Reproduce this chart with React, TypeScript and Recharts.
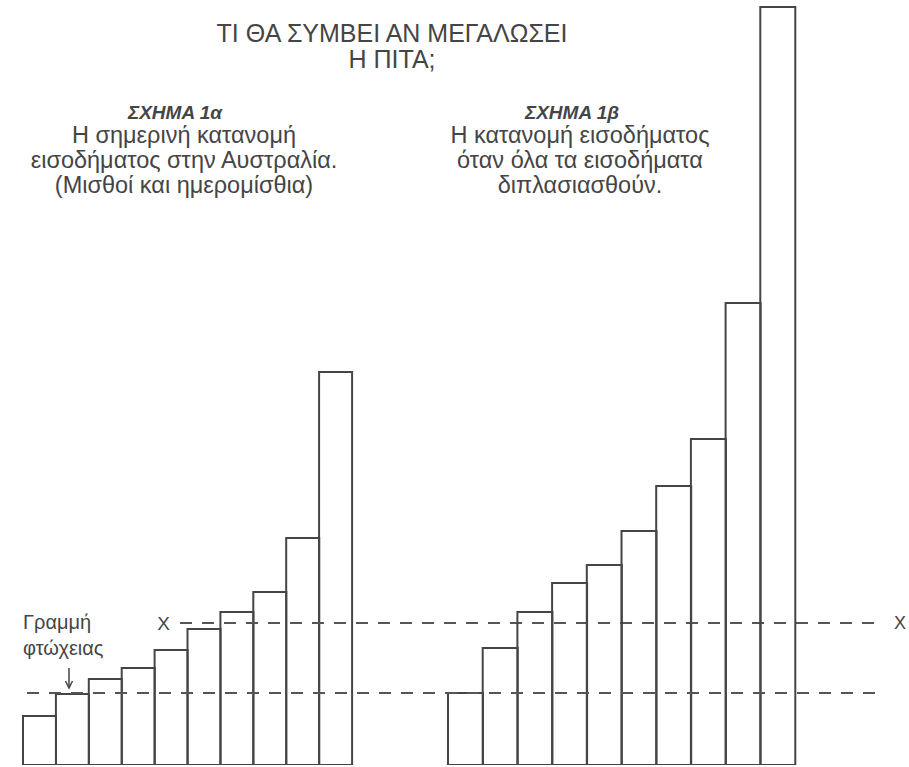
import { BarChart, Bar, XAxis, YAxis, ReferenceLine, Label } from 'recharts'

// income deciles, lowest to highest
const deciles = ['1', '2', '3', '4', '5', '6', '7', '8', '9', '10']

// bar heights (same arbitrary income units for both charts)
const currentIncome = [4.9, 7.1, 8.6, 9.7, 11.5, 13.6, 15.3, 17.3, 22.7, 39.3]
const doubledIncome = [7.2, 11.7, 15.3, 18.2, 20.0, 23.4, 27.9, 32.6, 46.2, 75.8]

const povertyLine = 7.2
const xLevel = 14.2
const yMax = 76

const currentData = deciles.map((d, i) => ({ decile: d, income: currentIncome[i] }))
const doubledData = deciles.map((d, i) => ({ decile: d, income: doubledIncome[i] }))

const INK = '#454545'
const LINE = '#555555'
const FONT = '"Liberation Sans", Arial, Helvetica, sans-serif'

function PovertyLabel(props: any) {
  const { x, y } = props.viewBox
  return (
    <g>
      <text x={x - 4} y={y - 64} fontSize={20} fill={INK} fontFamily={FONT}>
        Γραμμή
      </text>
      <text x={x - 4} y={y - 38} fontSize={20} fill={INK} fontFamily={FONT}>
        φτώχειας
      </text>
      <line x1={x + 42} y1={y - 25} x2={x + 42} y2={y - 6} stroke={INK} strokeWidth={1.5} />
      <path
        d={`M${x + 38.5},${y - 12} L${x + 42},${y - 5} L${x + 45.5},${y - 12}`}
        fill="none"
        stroke={INK}
        strokeWidth={1.5}
      />
    </g>
  )
}

const bodyText = {
  position: 'absolute' as const,
  top: 123,
  textAlign: 'center' as const,
  fontSize: 23.5,
  lineHeight: '25px',
}

const figHead = {
  position: 'absolute' as const,
  top: 102,
  textAlign: 'center' as const,
  fontSize: 19,
  lineHeight: '22px',
  fontWeight: 'bold' as const,
  fontStyle: 'italic' as const,
}

const overlay = { position: 'absolute' as const, left: 0, top: 0 }

export default function App() {
  return (
    <div
      style={{
        position: 'absolute',
        left: 0,
        top: 0,
        width: 909,
        height: 767,
        background: '#fff',
        fontFamily: FONT,
        color: INK,
      }}
    >
      <div
        style={{
          position: 'absolute',
          left: 0,
          top: 20,
          width: 784,
          textAlign: 'center',
          fontSize: 25,
          lineHeight: '26px',
        }}
      >
        ΤΙ ΘΑ ΣΥΜΒΕΙ ΑΝ ΜΕΓΑΛΩΣΕΙ
        <br />Η ΠΙΤΑ;
      </div>

      <div style={{ ...figHead, left: 0, width: 350 }}>ΣΧΗΜΑ 1α</div>
      <div style={{ ...bodyText, left: 0, width: 368 }}>
        Η σημερινή κατανομή
        <br />
        εισοδήματος στην Αυστραλία.
        <br />
        (Μισθοί και ημερομίσθια)
      </div>

      <div style={{ ...figHead, left: 422, width: 300 }}>ΣΧΗΜΑ 1β</div>
      <div style={{ ...bodyText, left: 430, width: 300 }}>
        Η κατανομή εισοδήματος
        <br />
        όταν όλα τα εισοδήματα
        <br />
        διπλασιασθούν.
      </div>

      {/* Σχήμα 1α */}
      <BarChart
        width={909}
        height={767}
        data={currentData}
        margin={{ top: 5, right: 557, bottom: 2, left: 23 }}
        barCategoryGap={0}
        barGap={0}
        style={overlay}
      >
        <XAxis dataKey="decile" hide />
        <YAxis hide domain={[0, yMax]} allowDataOverflow />
        <Bar dataKey="income" fill="none" stroke={INK} strokeWidth={2} isAnimationActive={false} />
      </BarChart>

      {/* level X: starts beside figure 1α and runs through figure 1β */}
      <BarChart
        width={909}
        height={767}
        data={doubledData}
        margin={{ top: 5, right: 31, bottom: 2, left: 180 }}
        style={overlay}
      >
        <XAxis dataKey="decile" hide />
        <YAxis hide domain={[0, yMax]} allowDataOverflow />
        <ReferenceLine y={xLevel} stroke={LINE} strokeWidth={2} strokeDasharray="12 10">
          <Label value="X" position="left" offset={10} fontSize={19} fill={INK} fontFamily={FONT} />
          <Label value="X" position="right" offset={16} fontSize={18} fill={INK} fontFamily={FONT} />
        </ReferenceLine>
      </BarChart>

      {/* Σχήμα 1β + poverty line across both */}
      <BarChart
        width={909}
        height={767}
        data={doubledData}
        margin={{ top: 5, right: 29, bottom: 2, left: 27 }}
        barCategoryGap={0}
        barGap={0}
        style={overlay}
      >
        <XAxis dataKey="decile" hide padding={{ left: 421, right: 85 }} />
        <YAxis hide domain={[0, yMax]} allowDataOverflow />
        <ReferenceLine
          y={povertyLine}
          stroke={LINE}
          strokeWidth={2}
          strokeDasharray="12 10"
          label={<PovertyLabel />}
        />
        <Bar dataKey="income" fill="none" stroke={INK} strokeWidth={2} isAnimationActive={false} />
      </BarChart>
    </div>
  )
}
